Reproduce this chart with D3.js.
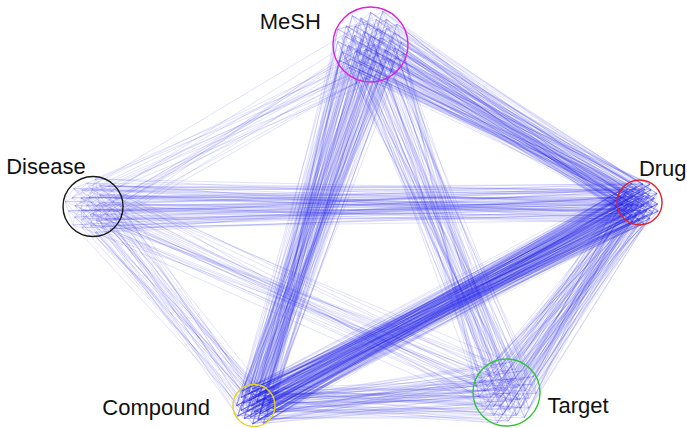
<!DOCTYPE html>
<html>
<head>
<meta charset="utf-8">
<script src="https://cdn.jsdelivr.net/npm/d3@7/dist/d3.min.js"></script>
<style>
  html, body { margin: 0; padding: 0; background: #fff; overflow: hidden; }
  svg { display: block; }
</style>
</head>
<body>
<svg id="chart" width="687" height="428"></svg>
<script>
// Entity types in the knowledge network
const groups = ["MeSH", "Disease", "Drug", "Compound", "Target"];
// Number of member entities per type
const memberCounts = [47, 37, 41, 29, 43];
// Links between types: [source type, target type, number of links]
const linkSources = ["Compound", "MeSH", "MeSH", "Drug", "Compound", "MeSH", "Disease", "Disease", "Disease", "Disease",
                     "MeSH", "Disease", "Drug", "Compound", "Target"];
const linkTargets = ["Drug", "Drug", "Compound", "Target", "Target", "Target", "Drug", "Compound", "Target", "MeSH",
                     "MeSH", "Disease", "Drug", "Compound", "Target"];
const linkCounts  = [230, 150, 130, 110, 75, 65, 80, 40, 30, 25,
                     45, 25, 35, 22, 35];

// Layout of the type clusters on the canvas (unit coordinates)
const layout = {
  MeSH:     { cx: 0.5393, cy: 0.104, r: 37.5, color: "#e021d8", label: { x: 0.467, y: 0.068, anchor: "end" } },
  Disease:  { cx: 0.1354, cy: 0.4825, r: 30,  color: "#1a1a1a", label: { x: 0.009, y: 0.406, anchor: "start" } },
  Drug:     { cx: 0.9309, cy: 0.473, r: 22.5, color: "#e3202a", label: { x: 0.930, y: 0.411, anchor: "start" } },
  Compound: { cx: 0.3697, cy: 0.9475, r: 21,  color: "#e2d41c", label: { x: 0.149, y: 0.969, anchor: "start" } },
  Target:   { cx: 0.7373, cy: 0.917, r: 33.5, color: "#2fc62f", label: { x: 0.797, y: 0.964, anchor: "start" } }
};

const width = 687, height = 428;
const svg = d3.select("#chart");
const x = d3.scaleLinear().domain([0, 1]).range([0, width]);
const y = d3.scaleLinear().domain([0, 1]).range([0, height]);

// Place member entities inside each cluster with a sunflower arrangement
const golden = Math.PI * (3 - Math.sqrt(5));
const members = {};
groups.forEach((g, gi) => {
  const L = layout[g], n = memberCounts[gi];
  const cx = x(L.cx), cy = y(L.cy);
  const radial = d3.scaleSqrt().domain([0, n]).range([0, L.r * 0.97]);
  members[g] = d3.range(n).map(k => {
    const rr = radial(k + 0.5), th = k * golden + gi;
    return [cx + rr * Math.cos(th), cy + rr * Math.sin(th)];
  });
});

// Expand link bundles into individual member-to-member links
const links = [];
linkSources.forEach((s, li) => {
  const t = linkTargets[li], c = linkCounts[li];
  const A = members[s], B = members[t];
  for (let e = 0; e < c; e++) {
    const i = (e * 7 + li) % A.length;
    let j = (e * 13 + Math.floor(e / B.length) * 5 + 3 * li) % B.length;
    if (s === t && j === i) j = (j + 1) % B.length;
    links.push([A[i], B[j]]);
  }
});

svg.append("g")
  .selectAll("line")
  .data(links)
  .join("line")
  .attr("x1", d => d[0][0]).attr("y1", d => d[0][1])
  .attr("x2", d => d[1][0]).attr("y2", d => d[1][1])
  .attr("stroke", "#2b2be6")
  .attr("stroke-opacity", 0.2)
  .attr("stroke-width", 0.7);

// Cluster outlines
svg.append("g")
  .selectAll("circle")
  .data(groups)
  .join("circle")
  .attr("cx", g => x(layout[g].cx))
  .attr("cy", g => y(layout[g].cy))
  .attr("r", g => layout[g].r)
  .attr("fill", "none")
  .attr("stroke", g => layout[g].color)
  .attr("stroke-width", 1.4);

// Type labels
svg.append("g")
  .selectAll("text")
  .data(groups)
  .join("text")
  .attr("x", g => x(layout[g].label.x))
  .attr("y", g => y(layout[g].label.y))
  .attr("text-anchor", g => layout[g].label.anchor)
  .attr("font-family", "Liberation Sans, Arial, sans-serif")
  .attr("font-size", 22)
  .attr("fill", "#111")
  .text(g => g);
</script>
</body>
</html>
